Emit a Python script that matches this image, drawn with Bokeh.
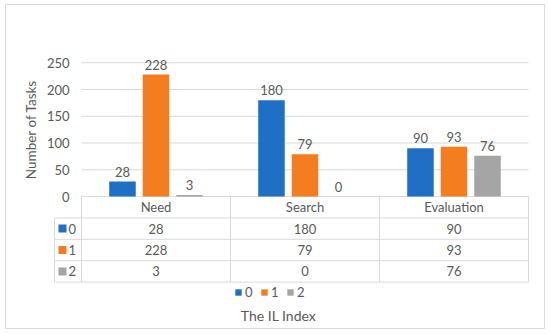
from bokeh.plotting import figure
from bokeh.models import FixedTicker, Range1d, Legend, LegendItem
from bokeh.core.properties import value
from bokeh.embed import file_html
from bokeh.resources import INLINE

# ---- data ----
categories = ["Need", "Search", "Evaluation"]
series_names = ["0", "1", "2"]
series_0 = [28, 180, 90]
series_1 = [228, 79, 93]
series_2 = [3, 0, 76]
y_ticks = [0, 50, 100, 150, 200, 250]
x_title = "The IL Index"
y_title = "Number of Tasks"

series_values = [series_0, series_1, series_2]
colors = ["#1F6FC5", "#F47D20", "#A5A5A5"]

# ---- style / layout (pixel geometry of the chart box) ----
FONT = "Lato"
TXT = "#595959"
LINE = "#D9D9D9"
W, H = 550, 334
BOX_L, BOX_R, BOX_T, BOX_B = 5, 544, 4, 328   # outer chart box
AREA_L, AREA_R = 81, 528                      # plot area
ZERO_Y = 196.0                                # pixel row of value 0
PX_PER_VAL = 0.535
ROW = 40.0                                    # table row height (value units)

n = len(categories)
unit_px = (AREA_R - AREA_L) / n
x_start = (BOX_L - AREA_L) / unit_px
x_end = n + (BOX_R - AREA_R) / unit_px
y_end = (ZERO_Y - BOX_T) / PX_PER_VAL
y_start = -(BOX_B - ZERO_Y) / PX_PER_VAL

def px_x(px):
    return (px - AREA_L) / unit_px

def px_y(py):
    return (ZERO_Y - py) / PX_PER_VAL

p = figure(width=W, height=H, output_backend="svg", toolbar_location=None,
           x_range=Range1d(x_start, x_end), y_range=Range1d(y_start, y_end),
           x_axis_location=None, min_border_left=BOX_L, min_border_right=W - BOX_R,
           min_border_top=BOX_T, min_border_bottom=H - BOX_B)
p.outline_line_color = LINE
p.outline_line_width = 1
p.xgrid.visible = False
p.ygrid.visible = False
p.background_fill_color = "white"
p.border_fill_color = "white"

ax = p.yaxis[0]
ax.fixed_location = 0
ax.bounds = (y_ticks[0], y_ticks[-1])
ax.ticker = FixedTicker(ticks=y_ticks)
ax.axis_line_color = None
ax.major_tick_line_color = None
ax.minor_tick_line_color = None
ax.major_tick_out = 0
ax.major_tick_in = 0
ax.major_label_standoff = 12
ax.major_label_text_font = FONT
ax.major_label_text_font_size = "13px"
ax.major_label_text_color = TXT
ax.axis_label = y_title
ax.axis_label_text_font = FONT
ax.axis_label_text_font_size = "13.5px"
ax.axis_label_text_font_style = "normal"
ax.axis_label_text_color = TXT
ax.axis_label_standoff = 5

# gridlines
p.segment(x0=0, x1=n, y0=y_ticks, y1=y_ticks, line_color=LINE, line_width=1)

# bars
offsets = [-0.225, 0.0, 0.225]
renderers = []
for s, vals in enumerate(series_values):
    xs = [i + 0.5 + offsets[s] for i in range(n)]
    r = p.vbar(x=xs, top=vals, width=0.178, fill_color=colors[s], line_color=None)
    renderers.append(r)
    p.text(x=xs, y=vals, text=[str(v) for v in vals], text_align="center",
           text_baseline="bottom", y_offset=-5, text_font=value(FONT),
           text_font_size="13px", text_color=TXT)

# data table lines
rows = len(series_values)
key_left = px_x(54)
hy = [-ROW * (k + 1) for k in range(rows + 1)]
p.segment(x0=key_left, x1=n, y0=hy, y1=hy, line_color=LINE, line_width=1)
vx = list(range(n + 1))
p.segment(x0=vx, x1=vx, y0=0, y1=-ROW * (rows + 1), line_color=LINE, line_width=1)
p.segment(x0=[key_left], x1=[key_left], y0=[-ROW], y1=[-ROW * (rows + 1)],
          line_color=LINE, line_width=1)

# header
p.text(x=[i + 0.5 for i in range(n)], y=-ROW / 2, text=categories,
       text_align="center", text_baseline="middle", text_font=value(FONT),
       text_font_size="13px", text_color=TXT)
# cells
for s, vals in enumerate(series_values):
    p.text(x=[i + 0.5 for i in range(n)], y=-ROW * (s + 1.5), text=[str(v) for v in vals],
           text_align="center", text_baseline="middle", text_font=value(FONT),
           text_font_size="13px", text_color=TXT)
# row keys
row_y = [-ROW * (s + 1.5) for s in range(rows)]
p.scatter(x=px_x(62), y=row_y, marker="square", size=8,
          fill_color=colors, line_color=None)
p.text(x=px_x(68), y=row_y, text=series_names, text_align="left",
       text_baseline="middle", text_font=value(FONT), text_font_size="13px",
       text_color=TXT)

# x title
p.text(x=[px_x(278)], y=[px_y(315)], text=[x_title], text_align="center",
       text_baseline="middle", text_font=value(FONT), text_font_size="14px",
       text_color=TXT)

legend = Legend(items=[LegendItem(label=nm, renderers=[r]) for nm, r in zip(series_names, renderers)],
                orientation="horizontal", location=(234 - BOX_L, BOX_B - 300),
                glyph_width=8, glyph_height=8, label_width=8,
                label_standoff=3, spacing=7, padding=0, margin=0, border_line_color=None,
                background_fill_alpha=0, label_text_font=FONT, label_text_font_size="13px",
                label_text_color=TXT, label_height=14)
p.add_layout(legend)

open("out.html", "w").write(file_html(p, INLINE))
